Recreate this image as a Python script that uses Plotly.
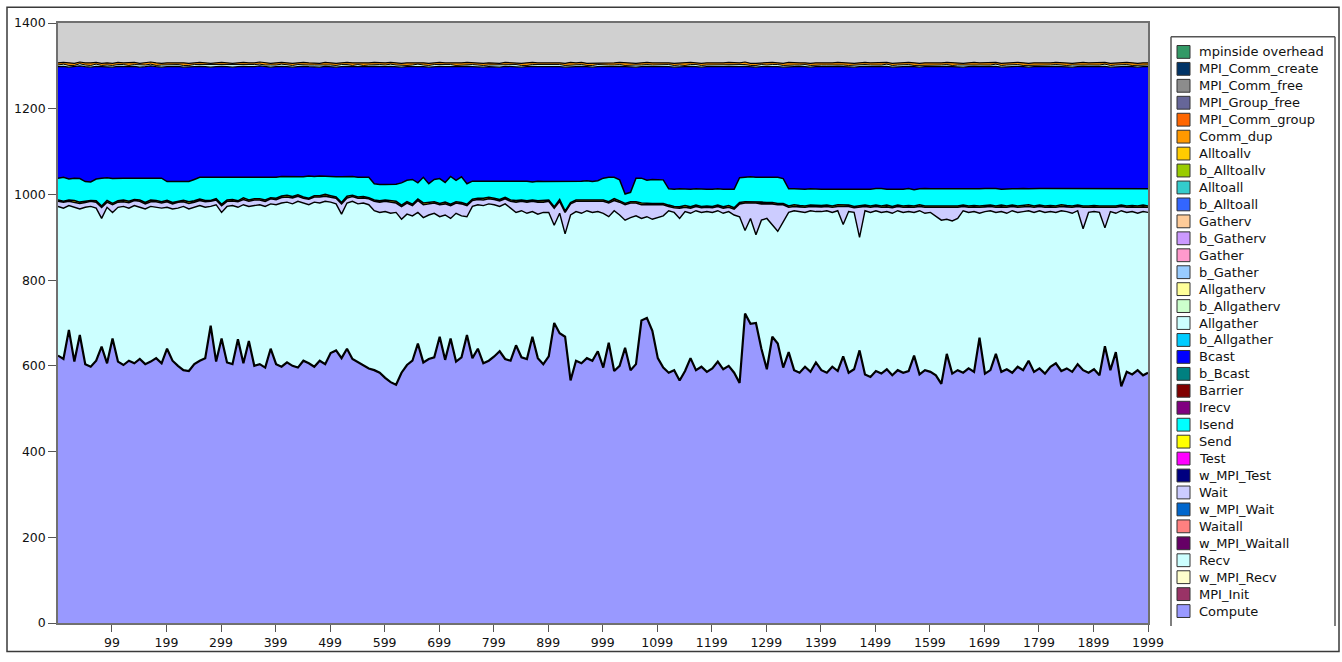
import plotly.graph_objects as go

# ---------------- data ----------------
x_idx = list(range(0, 2000, 10)) + [1999]

x_ticks = [99, 199, 299, 399, 499, 599, 699, 799, 899, 999,
           1099, 1199, 1299, 1399, 1499, 1599, 1699, 1799, 1899, 1999]
y_ticks = [0, 200, 400, 600, 800, 1000, 1200, 1400]

legend_names = ["mpinside overhead", "MPI_Comm_create", "MPI_Comm_free", "MPI_Group_free",
                "MPI_Comm_group", "Comm_dup", "Alltoallv", "b_Alltoallv", "Alltoall",
                "b_Alltoall", "Gatherv", "b_Gatherv", "Gather", "b_Gather", "Allgatherv",
                "b_Allgatherv", "Allgather", "b_Allgather", "Bcast", "b_Bcast", "Barrier",
                "Irecv", "Isend", "Send", "Test", "w_MPI_Test", "Wait", "w_MPI_Wait",
                "Waitall", "w_MPI_Waitall", "Recv", "w_MPI_Recv", "MPI_Init", "Compute"]
legend_colors = ["#339966", "#003366", "#8C8C8C", "#666699", "#FF6600", "#FF9900", "#FFCC00",
                 "#99CC00", "#33CCCC", "#3366FF", "#FFCC99", "#CC99FF", "#FF99CC", "#99CCFF",
                 "#FFFF99", "#CCFFCC", "#CCFFFF", "#00CCFF", "#0000FF", "#008080", "#800000",
                 "#800080", "#00FFFF", "#FFFF00", "#FF00FF", "#000080", "#CCCCFF", "#0066CC",
                 "#FF8080", "#660066", "#CCFFFF", "#FFFFCC", "#993366", "#9999FF"]

compute = [
    624, 616, 684, 610, 672, 604, 598, 612, 645, 606,
    664, 610, 602, 612, 606, 616, 604, 610, 618, 606,
    640, 612, 600, 590, 588, 604, 612, 618, 694, 610,
    664, 608, 604, 662, 606, 658, 600, 604, 596, 640,
    604, 598, 608, 600, 596, 612, 606, 598, 612, 604,
    630, 636, 618, 640, 616, 608, 600, 594, 590, 584,
    572, 562, 556, 584, 602, 612, 652, 608, 616, 620,
    668, 614, 664, 610, 620, 672, 618, 640, 606, 612,
    622, 634, 616, 612, 648, 620, 616, 668, 618, 604,
    622, 700, 676, 668, 566, 612, 606, 618, 612, 634,
    596, 654, 588, 600, 642, 590, 604, 706, 712, 682,
    618, 596, 584, 590, 566, 588, 618, 590, 598, 586,
    594, 610, 592, 600, 584, 560, 722, 698, 700, 640,
    592, 668, 652, 596, 632, 590, 584, 598, 586, 608,
    590, 584, 598, 588, 622, 584, 592, 636, 580, 574,
    588, 582, 592, 578, 590, 584, 588, 624, 580, 590,
    586, 578, 558, 628, 582, 590, 584, 594, 586, 666,
    582, 590, 628, 586, 592, 584, 598, 590, 612, 586,
    594, 582, 598, 606, 588, 594, 586, 604, 590, 584,
    592, 578, 646, 590, 632, 552, 586, 580, 590, 578, 584]

recv = [
    348, 352, 290, 360, 294, 366, 374, 356, 299, 364,
    294, 360, 370, 356, 368, 354, 362, 362, 352, 362,
    330, 354, 368, 382, 378, 366, 362, 352, 278, 366,
    294, 364, 370, 308, 370, 314, 374, 372, 376, 338,
    372, 382, 374, 378, 388, 368, 370, 384, 368, 380,
    352, 342, 336, 340, 368, 370, 380, 382, 372, 374,
    388, 394, 402, 358, 352, 338, 306, 338, 336, 336,
    280, 338, 280, 346, 330, 276, 354, 336, 368, 366,
    354, 338, 362, 356, 310, 342, 340, 292, 336, 354,
    336, 228, 280, 240, 386, 348, 350, 344, 346, 326,
    360, 294, 374, 352, 298, 356, 346, 238, 236, 260,
    328, 354, 378, 368, 378, 372, 338, 372, 360, 374,
    364, 352, 364, 360, 368, 388, 194, 246, 206, 300,
    352, 262, 262, 340, 326, 372, 376, 360, 376, 352,
    370, 378, 360, 374, 308, 376, 366, 264, 382, 384,
    374, 376, 368, 378, 372, 374, 372, 334, 382, 366,
    372, 372, 382, 314, 356, 354, 378, 364, 374, 290,
    378, 372, 330, 374, 364, 378, 360, 370, 350, 372,
    368, 376, 362, 352, 374, 366, 370, 358, 330, 374,
    368, 380, 276, 370, 324, 410, 372, 380, 366, 382, 374]

wait_vals = [
    12, 14, 10, 12, 13, 11, 12, 14, 26, 12,
    18, 12, 11, 13, 12, 14, 12, 11, 13, 12,
    13, 12, 14, 11, 13, 12, 12, 13, 12, 11,
    16, 12, 11, 13, 12, 12, 13, 11, 12, 12,
    12, 13, 12, 14, 12, 11, 13, 12, 14, 12,
    12, 13, 24, 12, 11, 13, 12, 14, 22, 24,
    24, 26, 22, 30, 26, 24, 28, 30, 26, 24,
    28, 26, 30, 24, 28, 26, 14, 12, 13, 12,
    12, 13, 12, 16, 24, 22, 26, 24, 28, 24,
    26, 40, 28, 50, 26, 24, 28, 22, 26, 24,
    28, 32, 24, 30, 36, 34, 30, 32, 28, 34,
    30, 26, 10, 11, 24, 10, 12, 10, 11, 10,
    11, 10, 12, 10, 14, 30, 64, 36, 74, 38,
    34, 48, 62, 40, 12, 10, 11, 12, 10, 11,
    11, 10, 12, 10, 42, 12, 11, 70, 10, 12,
    10, 12, 11, 13, 10, 12, 11, 12, 10, 14,
    12, 20, 30, 28, 32, 26, 10, 12, 11, 14,
    11, 10, 12, 11, 14, 10, 12, 11, 10, 12,
    10, 12, 11, 12, 10, 11, 14, 10, 50, 12,
    11, 12, 48, 10, 14, 10, 12, 11, 14, 11, 12]

send = [
    3, 2, 3, 4, 3, 3, 2, 3, 3, 4,
    3, 3, 4, 3, 2, 3, 3, 4, 3, 3,
    3, 3, 2, 3, 4, 3, 3, 3, 2, 3,
    3, 3, 3, 2, 4, 3, 3, 3, 3, 2,
    3, 3, 4, 3, 3, 3, 2, 3, 3, 4,
    3, 3, 3, 4, 3, 3, 3, 2, 3, 3,
    3, 3, 4, 3, 3, 3, 3, 4, 3, 3,
    3, 4, 3, 3, 3, 3, 3, 3, 4, 3,
    3, 3, 3, 3, 4, 3, 3, 3, 3, 4,
    3, 3, 4, 3, 3, 3, 3, 3, 4, 3,
    3, 3, 4, 3, 3, 3, 3, 4, 3, 3,
    3, 3, 3, 3, 3, 4, 3, 3, 3, 3,
    3, 3, 3, 4, 3, 3, 3, 3, 3, 4,
    3, 3, 3, 3, 3, 4, 3, 3, 3, 3,
    3, 3, 3, 4, 3, 3, 3, 3, 3, 3,
    3, 3, 4, 3, 3, 3, 3, 3, 4, 3,
    3, 3, 3, 3, 4, 3, 3, 3, 3, 3,
    3, 3, 3, 4, 3, 3, 3, 3, 4, 3,
    3, 3, 3, 3, 4, 3, 3, 3, 3, 3,
    3, 3, 3, 4, 3, 3, 3, 3, 3, 4, 3]

isend = [
    51, 56, 49, 52, 55, 46, 43, 51, 65, 53,
    58, 53, 51, 54, 50, 51, 57, 51, 52, 55,
    44, 49, 46, 44, 47, 50, 51, 54, 54, 50,
    63, 53, 52, 55, 48, 53, 50, 50, 53, 48,
    49, 46, 44, 47, 43, 47, 52, 45, 46, 42,
    44, 47, 60, 45, 44, 46, 45, 48, 38, 38,
    36, 38, 40, 52, 50, 58, 38, 60, 44, 52,
    58, 46, 65, 50, 60, 48, 42, 40, 40, 38,
    40, 43, 38, 44, 44, 43, 46, 42, 46, 44,
    43, 59, 42, 69, 49, 43, 44, 45, 42, 45,
    51, 57, 50, 49, 22, 22, 55, 58, 54, 56,
    56, 55, 38, 40, 42, 38, 41, 38, 40, 39,
    40, 38, 41, 38, 43, 58, 57, 58, 57, 58,
    58, 59, 61, 58, 40, 37, 38, 39, 38, 38,
    38, 37, 39, 36, 37, 38, 40, 39, 37, 39,
    39, 41, 37, 40, 38, 39, 40, 38, 37, 41,
    40, 40, 40, 39, 39, 40, 38, 40, 39, 40,
    40, 39, 41, 37, 40, 38, 40, 40, 37, 41,
    39, 41, 40, 40, 37, 39, 40, 39, 40, 40,
    40, 41, 40, 39, 40, 39, 40, 40, 40, 38, 40]

bcast = [
    260, 259, 261, 260, 263, 268, 268, 263, 260, 259,
    260, 261, 260, 260, 261, 259, 260, 262, 260, 259,
    268, 268, 269, 267, 268, 263, 259, 258, 257, 258,
    259, 258, 257, 258, 259, 258, 258, 260, 258, 257,
    258, 257, 256, 255, 256, 258, 255, 256, 254, 257,
    257, 256, 257, 258, 256, 258, 257, 258, 274, 275,
    275, 276, 274, 270, 265, 263, 272, 258, 272, 263,
    262, 270, 256, 264, 257, 274, 267, 267, 266, 267,
    267, 266, 268, 267, 268, 267, 267, 270, 267, 268,
    268, 269, 268, 267, 268, 268, 268, 266, 267, 266,
    260, 257, 258, 265, 297, 293, 259, 260, 266, 263,
    263, 265, 285, 285, 285, 286, 287, 285, 285, 286,
    286, 284, 286, 287, 286, 259, 259, 257, 257, 258,
    259, 259, 258, 260, 285, 285, 287, 286, 284, 286,
    286, 285, 286, 287, 286, 285, 285, 286, 287, 286,
    284, 284, 287, 285, 285, 286, 285, 287, 284, 284,
    285, 284, 285, 287, 285, 285, 284, 285, 286, 285,
    284, 284, 285, 285, 285, 285, 286, 284, 284, 284,
    284, 283, 284, 286, 285, 285, 284, 284, 286, 285,
    284, 284, 286, 284, 285, 284, 286, 284, 284, 285, 285]

allgather = [
    4, 5, 4, 3, 5, 4, 4, 5, 3, 4,
    4, 4, 5, 3, 4, 5, 4, 4, 3, 5,
    4, 5, 4, 4, 3, 5, 4, 4, 5, 4,
    4, 4, 5, 4, 3, 4, 5, 4, 4, 5,
    4, 5, 4, 4, 5, 3, 4, 4, 5, 4,
    4, 4, 5, 4, 3, 5, 4, 4, 4, 5,
    4, 5, 4, 4, 3, 4, 5, 4, 4, 5,
    4, 4, 5, 4, 4, 3, 5, 4, 4, 4,
    4, 5, 4, 4, 5, 4, 3, 4, 5, 4,
    4, 4, 5, 4, 4, 5, 4, 3, 4, 5,
    4, 5, 4, 4, 3, 4, 5, 4, 4, 4,
    4, 4, 5, 4, 4, 3, 4, 5, 4, 4,
    4, 5, 4, 4, 4, 5, 4, 3, 4, 5,
    4, 4, 5, 4, 4, 4, 3, 5, 4, 4,
    4, 5, 4, 4, 4, 3, 5, 4, 4, 4,
    4, 4, 5, 4, 4, 5, 4, 3, 4, 4,
    4, 5, 4, 4, 3, 4, 5, 4, 4, 4,
    4, 4, 5, 4, 4, 5, 4, 3, 4, 4,
    4, 5, 4, 4, 4, 3, 5, 4, 4, 4,
    4, 4, 5, 4, 4, 5, 4, 3, 4, 4, 4]

comm_dup = [
    5, 4, 6, 5, 4, 5, 6, 4, 5, 5,
    5, 5, 4, 6, 5, 4, 5, 5, 6, 4,
    5, 4, 5, 6, 5, 4, 5, 5, 4, 5,
    5, 5, 4, 5, 6, 5, 4, 5, 5, 4,
    5, 4, 5, 5, 4, 6, 5, 5, 4, 5,
    5, 5, 4, 5, 6, 4, 5, 5, 5, 4,
    5, 4, 5, 5, 6, 5, 4, 5, 5, 4,
    5, 5, 4, 5, 5, 6, 4, 5, 5, 5,
    5, 4, 5, 5, 4, 5, 6, 5, 4, 5,
    5, 5, 4, 5, 6, 4, 5, 5, 5, 4,
    5, 4, 5, 5, 6, 5, 4, 5, 5, 5,
    5, 5, 4, 5, 5, 6, 5, 4, 5, 5,
    5, 4, 5, 5, 5, 4, 6, 5, 5, 4,
    5, 5, 4, 5, 6, 5, 5, 4, 5, 5,
    5, 4, 5, 5, 5, 6, 4, 5, 5, 5,
    5, 5, 4, 5, 5, 4, 5, 6, 5, 5,
    5, 4, 5, 5, 6, 5, 4, 5, 5, 5,
    5, 5, 4, 5, 5, 4, 5, 6, 5, 5,
    5, 4, 5, 5, 5, 6, 4, 5, 5, 5,
    5, 5, 4, 5, 5, 4, 5, 6, 5, 5, 5]

# stack from bottom to top
stack = [("Compute", compute), ("Recv", recv), ("Wait", wait_vals), ("Send", send),
         ("Isend", isend), ("Bcast", bcast), ("Allgather", allgather), ("Comm_dup", comm_dup)]
line_w = {"Compute": 2.2, "Recv": 1.4, "Wait": 1.6, "Send": 1.6, "Isend": 1.5,
          "Bcast": 1.2, "Allgather": 1.0, "Comm_dup": 1.2}

# ---------------- figure ----------------
W, H = 1342, 662
PL, PR, PT, PB = 58, 1148, 23, 631  # plot area in pixels
pw, ph = PR - PL, PB - PT
color_of = dict(zip(legend_names, legend_colors))
FONT = "DejaVu Sans"

fig = go.Figure()
for name, vals in stack:
    assert len(vals) == len(x_idx), name
    fig.add_trace(go.Scatter(
        x=x_idx, y=vals, name=name, mode="lines", stackgroup="one",
        line=dict(color="black", width=line_w[name]),
        fillcolor=color_of[name], showlegend=False, hoverinfo="x+y+name"))

def px_x(p):
    return (p - PL) / pw

def px_y(p):
    return (PB - p) / ph

shapes = []
annotations = []
# outer frame
shapes.append(dict(type="rect", xref="paper", yref="paper",
                   x0=px_x(7), x1=px_x(1339), y0=px_y(660), y1=px_y(7),
                   line=dict(color="#3a3a3a", width=1.5), fillcolor="rgba(0,0,0,0)", layer="above"))
# legend box (top, left, right borders)
for (a, b, c, d) in [(1171, 37, 1335, 37), (1171, 37, 1171, 634), (1335, 37, 1335, 634)]:
    shapes.append(dict(type="line", xref="paper", yref="paper",
                       x0=px_x(a), y0=px_y(b), x1=px_x(c), y1=px_y(d),
                       line=dict(color="#555555", width=1.5)))
row0, step = 52.3, 17.17
for i, (nm, col) in enumerate(zip(legend_names, legend_colors)):
    yc = row0 + i * step
    shapes.append(dict(type="rect", xref="paper", yref="paper",
                       x0=px_x(1177), x1=px_x(1190), y0=px_y(yc + 6.5), y1=px_y(yc - 6.5),
                       fillcolor=col, line=dict(color="#333333", width=1)))
    annotations.append(dict(xref="paper", yref="paper", x=px_x(1197), y=px_y(yc),
                            text=nm, showarrow=False, xanchor="left", yanchor="middle",
                            font=dict(family=FONT, size=13, color="#111111")))

fig.update_layout(
    width=W, height=H,
    margin=dict(l=PL, r=W - PR, t=PT, b=H - PB, pad=0),
    paper_bgcolor="white", plot_bgcolor="#D0D0D0",
    font=dict(family=FONT, size=12.5, color="#111111"),
    showlegend=False,
    shapes=shapes, annotations=annotations,
    xaxis=dict(range=[0, 1999], tickmode="array", tickvals=x_ticks,
               ticktext=[str(t) for t in x_ticks], ticks="outside", ticklen=7,
               tickcolor="#555555", showline=True, linecolor="#707070", linewidth=1.5,
               mirror=True, showgrid=False, zeroline=False),
    yaxis=dict(range=[0, 1400], tickmode="array", tickvals=y_ticks,
               ticktext=[str(t) for t in y_ticks], ticks="outside", ticklen=8,
               tickcolor="#555555", showline=True, linecolor="#707070", linewidth=1.5,
               mirror=True, showgrid=False, zeroline=False),
)

fig.write_html("out.html", config={"displayModeBar": False},
               post_script="document.body.style.margin='0px';document.body.style.padding='0px';"
                           "document.documentElement.style.overflow='hidden';")
